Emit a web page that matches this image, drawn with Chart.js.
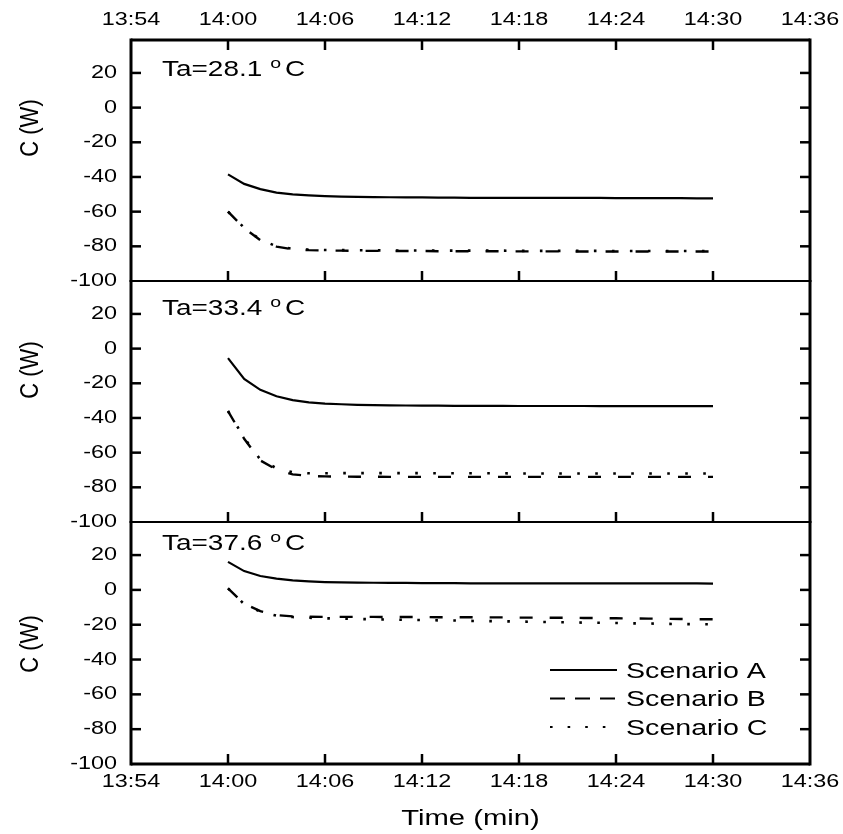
<!DOCTYPE html>
<html>
<head>
<meta charset="utf-8">
<title>C (W) vs Time</title>
<script src="https://cdn.jsdelivr.net/npm/chart.js@4.4.1/dist/chart.umd.min.js"></script>
<style>
html,body{margin:0;padding:0;background:#fff;}
#wrap{position:relative;width:843px;height:834px;overflow:hidden;background:#fff;}
#wrap canvas{position:absolute;left:0;top:0;}
</style>
</head>
<body>
<div id="wrap">
<canvas id="p1" width="843" height="834"></canvas>
<canvas id="p2" width="843" height="834"></canvas>
<canvas id="p3" width="843" height="834"></canvas>
</div>
<script>
// ---------- data ----------
const times = ['14:00','14:01','14:02','14:03','14:04','14:05','14:06','14:07','14:08','14:09',
               '14:10','14:11','14:12','14:13','14:14','14:15','14:16','14:17','14:18','14:19',
               '14:20','14:21','14:22','14:23','14:24','14:25','14:26','14:27','14:28','14:29','14:30'];
const xTickLabels = ['13:54','14:00','14:06','14:12','14:18','14:24','14:30','14:36'];
const yTickValues = [-100,-80,-60,-40,-20,0,20];
const seriesNames = ['Scenario A','Scenario B','Scenario C'];
const ambientTemps = ['28.1','33.4','37.6'];

const panel1A = [-38.5,-44,-47,-49,-50,-50.6,-51,-51.3,-51.5,-51.6,-51.7,-51.8,-51.8,-51.9,-51.9,-52,-52,-52,-52,-52,-52.1,-52.1,-52.1,-52.1,-52.2,-52.2,-52.2,-52.2,-52.2,-52.3,-52.3];
const panel1B = [-60,-69.5,-76.5,-80.2,-81.7,-82.2,-82.4,-82.5,-82.6,-82.6,-82.7,-82.7,-82.7,-82.8,-82.8,-82.8,-82.8,-82.9,-82.9,-82.9,-82.9,-82.9,-83,-83,-83,-83,-83,-83,-83,-83,-83];
const panel1C = [-60,-69.3,-76.2,-80,-81.4,-81.9,-82.1,-82.2,-82.3,-82.3,-82.4,-82.4,-82.4,-82.5,-82.5,-82.5,-82.5,-82.5,-82.6,-82.6,-82.6,-82.6,-82.6,-82.6,-82.7,-82.7,-82.7,-82.7,-82.7,-82.7,-82.7];

const panel2A = [-5.5,-17.5,-23.8,-27.5,-29.7,-31,-31.7,-32.1,-32.4,-32.6,-32.7,-32.8,-32.9,-32.9,-33,-33,-33,-33,-33.1,-33.1,-33.1,-33.1,-33.1,-33.2,-33.2,-33.2,-33.2,-33.2,-33.2,-33.2,-33.2];
const panel2B = [-36,-52,-64.5,-69.8,-72.5,-73.4,-73.7,-73.8,-73.9,-73.9,-74,-74,-74,-74,-74,-74,-74,-74,-74,-74,-74,-74,-74,-74,-74,-74,-74,-74,-74,-74,-74];
const panel2C = [-36,-51.5,-64,-69,-71.3,-71.9,-71.9,-71.8,-71.8,-71.8,-71.8,-71.8,-71.8,-71.9,-71.9,-71.9,-71.9,-71.9,-72,-72,-72,-72,-72,-72,-72,-72,-72,-72,-72,-72,-72];

const panel3A = [16.1,10.8,8,6.5,5.5,4.9,4.5,4.3,4.2,4.1,4,4,3.9,3.9,3.9,3.8,3.8,3.8,3.8,3.8,3.7,3.7,3.7,3.7,3.7,3.7,3.7,3.7,3.7,3.7,3.6];
const panel3B = [0.9,-8,-12.2,-14.5,-15.2,-15.4,-15.5,-15.5,-15.5,-15.5,-15.6,-15.6,-15.6,-15.7,-15.7,-15.7,-15.8,-15.8,-15.9,-15.9,-16,-16,-16.1,-16.2,-16.3,-16.4,-16.5,-16.6,-16.7,-16.8,-16.9];
const panel3C = [0.9,-8.2,-12.5,-14.8,-15.6,-16,-16.3,-16.5,-16.7,-16.9,-17,-17.2,-17.3,-17.5,-17.6,-17.8,-17.9,-18,-18.2,-18.3,-18.5,-18.6,-18.8,-18.9,-19,-19.2,-19.3,-19.5,-19.6,-19.7,-19.8];

// ---------- styles ----------
const FONT = '"Liberation Sans", Arial, sans-serif';
const STRETCH = 1.3;
const lineStyles = [
  {width: 2.2, dash: []},
  {width: 2.4, dash: [13, 17]},
  {width: 2.6, dash: [2.6, 15.4]}
];
const legendDash = [[], [15, 10], [2.6, 15]];

Chart.defaults.font.family = FONT;
Chart.defaults.color = '#000';

const toMin = s => { const p = s.split(':').map(Number); return p[0] * 60 + p[1]; };

function stretchText(ctx, s) {
  const orig = ctx.fillText.bind(ctx);
  ctx._plainFill = orig;
  ctx.fillText = function (t, x, y, mw) {
    this.save();
    this.translate(x, y);
    this.scale(s, 1);
    if (mw === undefined || mw === null) orig(t, 0, 0); else orig(t, 0, 0, mw / s);
    this.restore();
  };
}

const framePlugin = {
  id: 'frame',
  afterDatasetsDraw(chart, args, o) {
    const {ctx, chartArea: a} = chart;
    const xs = chart.scales.x, ys = chart.scales.y;
    const seg = (x1, y1, x2, y2) => { ctx.beginPath(); ctx.moveTo(x1, y1); ctx.lineTo(x2, y2); ctx.stroke(); };
    ctx.save();
    ctx.strokeStyle = '#000';
    ctx.setLineDash([]);
    ctx.lineCap = 'butt';
    ctx.lineWidth = 2.5;
    const tl = 10;
    ys.ticks.forEach(t => {
      if (t.value <= ys.min || t.value >= ys.max) return;
      const py = ys.getPixelForValue(t.value);
      seg(a.left, py, a.left + tl, py);
      seg(a.right - tl, py, a.right, py);
    });
    xs.ticks.forEach(t => {
      if (t.value <= xs.min || t.value >= xs.max) return;
      const px = xs.getPixelForValue(t.value);
      seg(px, a.bottom, px, a.bottom - tl);
      if (o.topTicks) seg(px, a.top, px, a.top + tl);
    });
    ctx.lineWidth = o.topW;
    seg(a.left, a.top, a.right, a.top);
    ctx.lineWidth = o.bottomW;
    seg(a.left, a.bottom, a.right, a.bottom);
    ctx.lineWidth = 3;
    seg(a.left, a.top - o.topW / 2, a.left, a.bottom + o.bottomW / 2);
    seg(a.right, a.top - o.topW / 2, a.right, a.bottom + o.bottomW / 2);
    ctx.restore();
  }
};

const notesPlugin = {
  id: 'notes',
  afterDraw(chart, args, o) {
    const ctx = chart.ctx;
    ctx.save();
    ctx.fillStyle = '#000';
    ctx.textAlign = 'left';
    ctx.textBaseline = 'alphabetic';
    // temperature label
    const main = 'Ta=' + o.temp;
    ctx.font = '21.5px ' + FONT;
    const w = ctx.measureText(main).width * STRETCH;
    ctx.fillText(main, o.tx, o.ty);
    ctx.font = '15px ' + FONT;
    const ox = o.tx + w + 8;
    ctx.fillText('o', ox, o.ty - 8.5);
    const wo = ctx.measureText('o').width * STRETCH;
    ctx.font = '21.5px ' + FONT;
    ctx.fillText('C', ox + wo + 4, o.ty);
    // y axis label
    ctx.save();
    ctx.font = '22px ' + FONT;
    ctx.translate(31, o.yLabelY);
    ctx.scale(1.15, 1);
    ctx.rotate(-Math.PI / 2);
    ctx.textAlign = 'center';
    ctx.textBaseline = 'middle';
    ctx._plainFill('C (W)', 0, 0);
    ctx.restore();
    // legend
    if (o.legend) {
      const L = o.legend;
      chart.data.datasets.forEach((ds, k) => {
        const y = L.rows[k];
        ctx.save();
        ctx.strokeStyle = '#000';
        ctx.lineWidth = 2.2;
        ctx.lineCap = 'butt';
        ctx.setLineDash(legendDash[k]);
        ctx.beginPath();
        ctx.moveTo(L.x1, y);
        ctx.lineTo(L.x2, y);
        ctx.stroke();
        ctx.restore();
        ctx.font = '22px ' + FONT;
        ctx.textBaseline = 'alphabetic';
        ctx.fillText(ds.label, L.tx, y + 7.8);
      });
    }
    ctx.restore();
  }
};

const panels = [
  {id: 'p1', values: [panel1A, panel1B, panel1C], temp: ambientTemps[0],
   padTop: 0, padBottom: 553, xShow: true, xPos: 'top', xHeight: 40, xPad: 9.5, xTitle: false,
   topW: 3, bottomW: 2, topTicks: true, ty: 76, yLabelY: 128},
  {id: 'p2', values: [panel2A, panel2B, panel2C], temp: ambientTemps[1],
   padTop: 281, padBottom: 312, xShow: false, xPos: 'bottom', xHeight: 0, xPad: 0, xTitle: false,
   topW: 2, bottomW: 2, topTicks: false, ty: 315, yLabelY: 370},
  {id: 'p3', values: [panel3A, panel3B, panel3C], temp: ambientTemps[2],
   padTop: 522, padBottom: 0, xShow: true, xPos: 'bottom', xHeight: 70, xPad: 7.2, xTitle: true,
   topW: 2, bottomW: 3, topTicks: false, ty: 550, yLabelY: 644,
   legend: {x1: 550, x2: 617, tx: 626, rows: [670, 698.5, 727]}}
];

panels.forEach(p => {
  const ctx = document.getElementById(p.id).getContext('2d');
  stretchText(ctx, STRETCH);
  const datasets = seriesNames.map((name, k) => ({
    label: name,
    data: times.map((t, i) => ({x: toMin(t), y: p.values[k][i]})),
    borderColor: '#000',
    backgroundColor: '#000',
    borderWidth: lineStyles[k].width,
    borderDash: lineStyles[k].dash,
    borderCapStyle: 'butt',
    pointRadius: 0,
    fill: false,
    tension: 0
  }));
  new Chart(ctx, {
    type: 'line',
    data: {datasets},
    options: {
      responsive: false,
      animation: false,
      devicePixelRatio: 1,
      events: [],
      layout: {padding: {left: 0, right: 33, top: p.padTop, bottom: p.padBottom}},
      plugins: {
        legend: {display: false},
        tooltip: {enabled: false},
        frame: {topW: p.topW, bottomW: p.bottomW, topTicks: p.topTicks},
        notes: {temp: p.temp, tx: 162, ty: p.ty, yLabelY: p.yLabelY, legend: p.legend || null}
      },
      scales: {
        x: {
          type: 'linear',
          position: p.xPos,
          display: p.xShow,
          min: toMin(xTickLabels[0]),
          max: toMin(xTickLabels[xTickLabels.length - 1]),
          afterBuildTicks: s => { s.ticks = xTickLabels.map(l => ({value: toMin(l)})); },
          afterFit: s => { s.height = p.xHeight; },
          grid: {display: false, drawTicks: false},
          border: {display: false},
          ticks: {autoSkip: false, maxRotation: 0, minRotation: 0, padding: p.xPad,
                  font: {size: 18, family: FONT}, color: '#000',
                  callback: (v, i) => xTickLabels[i]},
          title: {display: p.xTitle, text: 'Time (min)', color: '#000',
                  font: {size: 22.5, family: FONT}, padding: {top: 0, bottom: 1.4}}
        },
        y: {
          type: 'linear',
          position: 'left',
          min: -100,
          max: 39,
          afterBuildTicks: s => { s.ticks = yTickValues.map(v => ({value: v})); },
          afterFit: s => { s.width = 131; },
          grid: {display: false, drawTicks: false},
          border: {display: false},
          ticks: {padding: 14, font: {size: 18, family: FONT}, color: '#000',
                  callback: v => String(v)}
        }
      }
    },
    plugins: [framePlugin, notesPlugin]
  });
});
</script>
</body>
</html>
